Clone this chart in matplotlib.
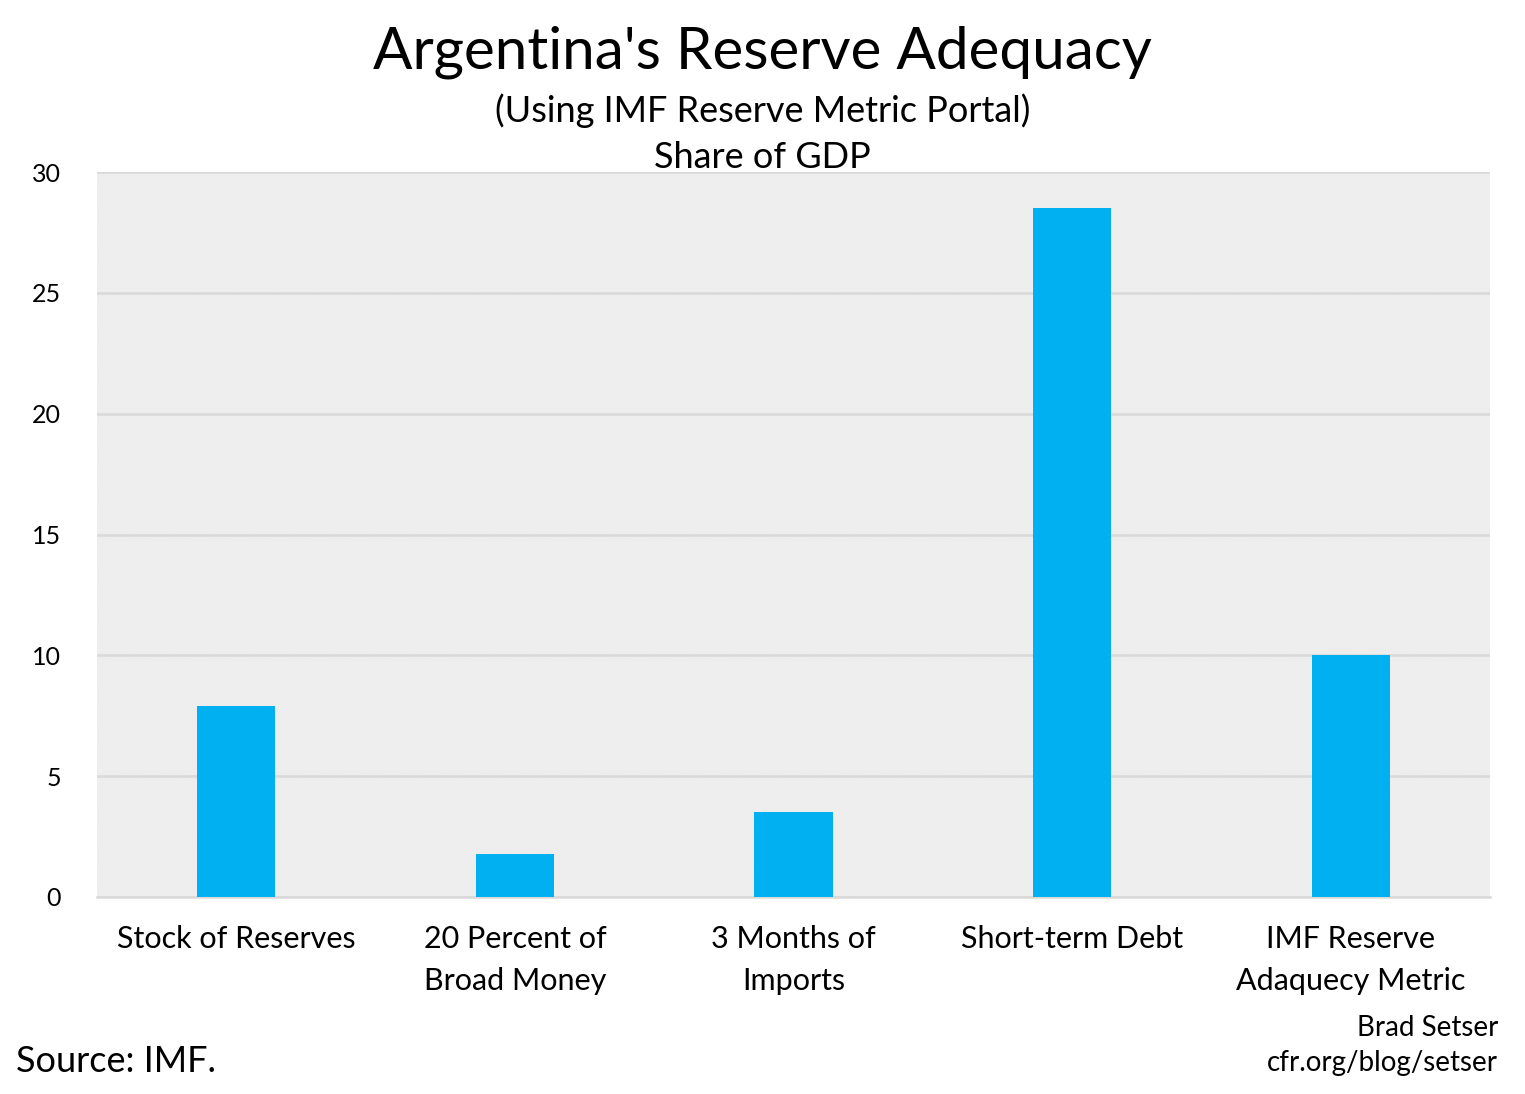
import matplotlib
matplotlib.use('Agg')
import matplotlib.pyplot as plt
from matplotlib.patches import Rectangle

categories = ['Stock of Reserves', '20 Percent of\nBroad Money', '3 Months of\nImports',
              'Short-term Debt', 'IMF Reserve\nAdaquecy Metric']
values = [7.9, 1.8, 3.5, 28.5, 10.0]
yticks = [0, 5, 10, 15, 20, 25, 30]

plt.rcParams['font.family'] = ['Lato', 'DejaVu Sans']
plt.rcParams['hatch.color'] = '#e2e2e2'
plt.rcParams['hatch.linewidth'] = 0.5

fig = plt.figure(figsize=(15.25, 10.94), dpi=100)
ax = fig.add_axes([97 / 1525, 1 - 897 / 1094, 1393 / 1525, 725 / 1094])

# hatched plot background
ax.add_patch(Rectangle((0, 0), 1, 1, transform=ax.transAxes, facecolor='white',
                       edgecolor='#e2e2e2', linewidth=0, hatch='\\' * 20, zorder=0))

ax.grid(axis='y', color='#d9d9d9', linewidth=1.8, zorder=1)
ax.set_axisbelow(True)
ax.bar(range(len(values)), values, width=0.28, color='#00B0F0', zorder=3)

ax.set_xlim(-0.5, len(values) - 0.5)
ax.set_ylim(0, 30)
ax.set_yticks(yticks)
ax.set_xticks(range(len(values)))
ax.set_xticklabels(categories, fontsize=22, linespacing=1.6)
ax.tick_params(axis='y', labelsize=18, length=0, pad=26)
ax.tick_params(axis='x', length=0, pad=20)
for s in ['top', 'right', 'left']:
    ax.spines[s].set_visible(False)
ax.spines['bottom'].set_color('#d9d9d9')
ax.spines['bottom'].set_linewidth(1.8)

fig.text(0.5, 1 - 52 / 1094, "Argentina's Reserve Adequacy", ha='center', va='center', fontsize=42)
fig.text(0.5, 1 - 111 / 1094, "(Using IMF Reserve Metric Portal)", ha='center', va='center', fontsize=26)
fig.text(0.5, 1 - 158 / 1094, "Share of GDP", ha='center', va='center', fontsize=26)
fig.text(16 / 1525, 1 - 1062 / 1094, "Source: IMF.", ha='left', va='center', fontsize=26)
fig.text(1498 / 1525, 1 - 1028 / 1094, "Brad Setser", ha='right', va='center', fontsize=20)
fig.text(1498 / 1525, 1 - 1063 / 1094, "cfr.org/blog/setser", ha='right', va='center', fontsize=20)

fig.savefig('out.png', dpi=100)
